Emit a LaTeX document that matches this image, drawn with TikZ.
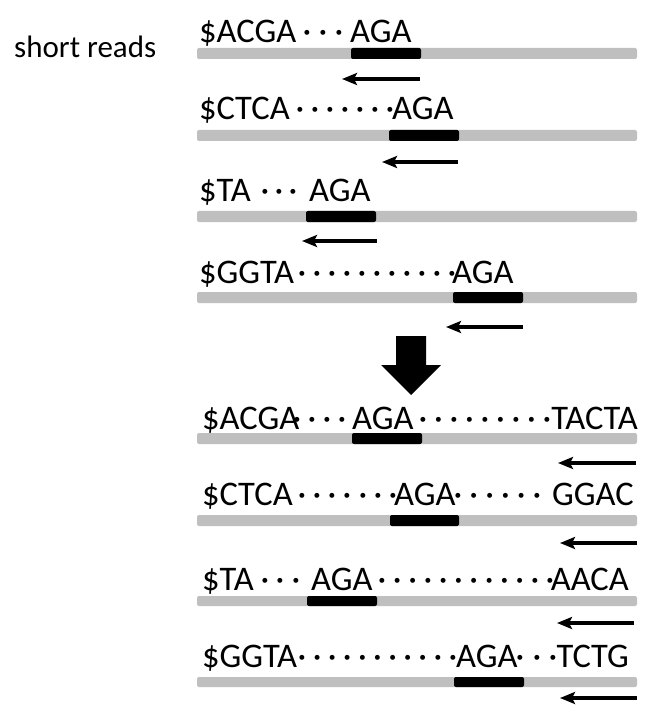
\documentclass[tikz,border=0pt]{standalone}
\usepackage{fontspec}
\setmainfont{Carlito}
\usetikzlibrary{arrows.meta}
\definecolor{barGray}{HTML}{BFBFBF}
\begin{document}
\begin{tikzpicture}[x=1pt,y=-1pt,
  seq/.style={anchor=base west, inner sep=0pt, font=\fontsize{34.5}{40}\selectfont},
  dotc/.style={anchor=base, inner sep=0pt, font=\fontsize{34.5}{40}\selectfont},
  lbl/.style={anchor=base west, inner sep=0pt, font=\fontsize{31}{36}\selectfont},
  graybar/.style={fill=barGray, rounded corners=2pt},
  hitbar/.style={fill=black, rounded corners=2pt},
  readarrow/.style={line width=3.4pt, -{Stealth[length=15pt,width=12pt,inset=3pt]}},
  bigarrow/.style={fill=black}
]
\useasboundingbox (0,0) rectangle (667,727);

\node[lbl] (label) at (14,58) {short reads};

% ---------- top section ----------
% row 1
\path[graybar] (197,48) rectangle (637,59);
\path[hitbar] (351,48) rectangle (421,59);
\node[seq] (t1a) at (199,43) {\$ACGA};
\foreach \x [count=\i] in {307,323,339} \node[dotc] (t1d\i) at (\x,43) {·};
\node[seq] (t1m) at (350,43) {AGA};
\coordinate (t1s) at (420,79); \coordinate (t1e) at (342,79);
\draw[readarrow] (t1s) -- (t1e);

% row 2
\path[graybar] (197,130) rectangle (637,141);
\path[hitbar] (389,130) rectangle (459,141);
\node[seq] (t2a) at (199,120) {\$CTCA};
\foreach \x [count=\i] in {300,315,330,345,360,375,390} \node[dotc] (t2d\i) at (\x,120) {·};
\node[seq] (t2m) at (392,120) {AGA};
\coordinate (t2s) at (458,162); \coordinate (t2e) at (382,162);
\draw[readarrow] (t2s) -- (t2e);

% row 3
\path[graybar] (197,211) rectangle (637,222);
\path[hitbar] (306,211) rectangle (376,222);
\node[seq] (t3a) at (199,202) {\$TA};
\foreach \x [count=\i] in {265,279,293} \node[dotc] (t3d\i) at (\x,202) {·};
\node[seq] (t3m) at (309,202) {AGA};
\coordinate (t3s) at (377,241); \coordinate (t3e) at (302,241);
\draw[readarrow] (t3s) -- (t3e);

% row 4
\path[graybar] (197,292) rectangle (637,303);
\path[hitbar] (453,292) rectangle (523,303);
\node[seq] (t4a) at (199,283) {\$GGTA};
\foreach \x [count=\i] in {302,317,332,347,362,377,392,407,422,437,452} \node[dotc] (t4d\i) at (\x,283) {·};
\node[seq] (t4m) at (452,283) {AGA};
\coordinate (t4s) at (523,327); \coordinate (t4e) at (446,327);
\draw[readarrow] (t4s) -- (t4e);

% big arrow
\fill[bigarrow] (396,336) -- (426,336) -- (426,365) -- (441,365) -- (411,395) -- (381,365) -- (396,365) -- cycle;

% ---------- bottom section ----------
% row 1
\path[graybar] (197,433) rectangle (637,444);
\path[hitbar] (352,433) rectangle (422,444);
\node[seq] (b1a) at (202,429) {\$ACGA};
\foreach \x [count=\i] in {297,312,327,342} \node[dotc] (b1d\i) at (\x,429) {·};
\node[seq] (b1m) at (352,429) {AGA};
\foreach \x [count=\i] in {423,438.5,454,469.5,485,500.5,516,531.5,547} \node[dotc] (b1e\i) at (\x,429) {·};
\node[seq, anchor=base east] (b1z) at (638,429) {TACTA};
\coordinate (b1s) at (636,463); \coordinate (b1t) at (558,463);
\draw[readarrow] (b1s) -- (b1t);

% row 2
\path[graybar] (197,515) rectangle (637,526);
\path[hitbar] (390,515) rectangle (459,526);
\node[seq] (b2a) at (202,505) {\$CTCA};
\foreach \x [count=\i] in {302,317,332,347,363,378,393} \node[dotc] (b2d\i) at (\x,505) {·};
\node[seq] (b2m) at (394,505) {AGA};
\foreach \x [count=\i] in {458,473.8,489.6,505.4,521.2,537} \node[dotc] (b2e\i) at (\x,505) {·};
\node[seq, anchor=base east] (b2z) at (634,505) {GGAC};
\coordinate (b2s) at (637,543); \coordinate (b2t) at (560,543);
\draw[readarrow] (b2s) -- (b2t);

% row 3
\path[graybar] (197,596) rectangle (637,606);
\path[hitbar] (307,596) rectangle (377,606);
\node[seq] (b3a) at (202,590) {\$TA};
\foreach \x [count=\i] in {265,280,296} \node[dotc] (b3d\i) at (\x,590) {·};
\node[seq] (b3m) at (311,590) {AGA};
\foreach \x [count=\i] in {382,397.3,412.6,427.9,443.2,458.5,473.8,489.1,504.4,519.7,535,550} \node[dotc] (b3e\i) at (\x,590) {·};
\node[seq, anchor=base east] (b3z) at (629,590) {AACA};
\coordinate (b3s) at (634,623); \coordinate (b3t) at (557,623);
\draw[readarrow] (b3s) -- (b3t);

% row 4
\path[graybar] (197,677) rectangle (637,687);
\path[hitbar] (454,677) rectangle (524,687);
\node[seq] (b4a) at (202,667) {\$GGTA};
\foreach \x [count=\i] in {302,317.1,332.2,347.3,362.4,377.5,392.6,407.7,422.8,437.9,453} \node[dotc] (b4d\i) at (\x,667) {·};
\node[seq] (b4m) at (456,667) {AGA};
\foreach \x [count=\i] in {520,537,553} \node[dotc] (b4e\i) at (\x,667) {·};
\node[seq, anchor=base east] (b4z) at (629,667) {TCTG};
\coordinate (b4s) at (637,698); \coordinate (b4t) at (560,698);
\draw[readarrow] (b4s) -- (b4t);
\end{tikzpicture}
\end{document}
